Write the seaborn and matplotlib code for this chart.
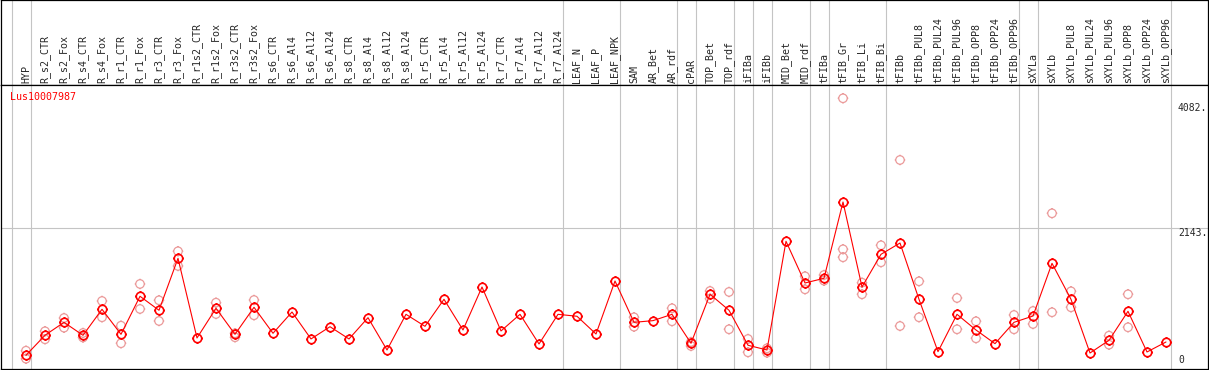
import matplotlib
matplotlib.use("Agg")
import matplotlib.pyplot as plt
import matplotlib.transforms as mtransforms
from matplotlib.path import Path
import seaborn as sns
import numpy as np
import pandas as pd

# Nomes das amostras (colunas do gráfico)
amostras = [
    "HYP", "R_s2_CTR", "R_s2_Fox", "R_s4_CTR", "R_s4_Fox", "R_r1_CTR", "R_r1_Fox",
    "R_r3_CTR", "R_r3_Fox", "R_r1s2_CTR", "R_r1s2_Fox", "R_r3s2_CTR", "R_r3s2_Fox",
    "R_s6_CTR", "R_s6_Al4", "R_s6_Al12", "R_s6_Al24", "R_s8_CTR", "R_s8_Al4",
    "R_s8_Al12", "R_s8_Al24", "R_r5_CTR", "R_r5_Al4", "R_r5_Al12", "R_r5_Al24",
    "R_r7_CTR", "R_r7_Al4", "R_r7_Al12", "R_r7_Al24", "LEAF_N", "LEAF_P", "LEAF_NPK",
    "SAM", "AR_Bet", "AR_rdf", "cPAR", "TOP_Bet", "TOP_rdf", "iFIBa", "iFIBb",
    "MID_Bet", "MID_rdf", "tFIBa", "tFIB_Gr", "tFIB_Li", "tFIB_Bi", "tFIBb",
    "tFIBb_PUL8", "tFIBb_PUL24", "tFIBb_PUL96", "tFIBb_OPP8", "tFIBb_OPP24",
    "tFIBb_OPP96", "sXYLa", "sXYLb", "sXYLb_PUL8", "sXYLb_PUL24", "sXYLb_PUL96",
    "sXYLb_OPP8", "sXYLb_OPP24", "sXYLb_OPP96",
]

# Média por amostra
medias = [
    174, 484, 685, 484, 887, 499, 1089, 872, 1678, 442, 903, 499, 918,
    515, 845, 427, 617, 427, 757, 256, 809, 623, 1042, 566, 1233,
    551, 809, 349, 809, 779, 504, 1326,
    685, 711, 809, 360, 1120, 872, 329, 256,
    1942, 1295, 1368, 2551, 1233, 1740, 1915,
    1042, 230, 809, 566, 354, 685,
    783, 1600, 1042, 209, 406, 856, 225, 380,
]

nan = np.nan
# Réplicas individuais (superior / inferior / terceira quando visível)
rep_alta = [
    245, 546, 752, 520, 1016, 633, 1280, 1027, 1787, nan, 990, 515, 1031,
    nan, nan, nan, nan, nan, nan, nan, nan, nan, nan, nan, nan,
    nan, nan, nan, nan, nan, nan, nan,
    763, nan, 903, 380, 1171, 1156, 427, 282,
    nan, 1399, 1419, 4160, 1300, 1880, 3203,
    1321, nan, 1062, 701, nan, 799,
    861, 2376, 1166, nan, 478, 1120, nan, nan,
]
rep_baixa = [
    121, 422, 602, 450, 763, 360, 892, 706, 1559, nan, 814, 453, 794,
    nan, nan, nan, nan, nan, nan, nan, nan, nan, nan, nan, nan,
    nan, nan, nan, nan, nan, nan, nan,
    617, nan, 701, 318, 1052, 577, 220, 214,
    nan, 1197, 1331, 1818, 1120, 1616, 628,
    763, nan, 577, 437, nan, 577,
    659, 841, 918, nan, 338, 608, nan, nan,
]
rep_extra = [nan] * 43 + [1694] + [nan] * 17

# Separadores de grupos (depois destas colunas)
separadores = [-1, 0, 28, 31, 34, 35, 37, 38, 39, 41, 42, 45, 52, 53, 60]
ticks_y = [0, 2143, 4082]

VERMELHO = "#ff0000"
ROSA = "#eb9a9a"
CINZA = "#c4c4c4"

sns.set_style("white")
plt.rcParams["font.family"] = ["DejaVu Sans Mono", "DejaVu Sans"]

# Marcador: círculo com pequenos traços nos 4 lados
circ = Path.unit_circle()
t = 1.25
tracos = Path(
    [(0, 1.0), (0, t), (0, -1.0), (0, -t), (1.0, 0), (t, 0), (-1.0, 0), (-t, 0)],
    [Path.MOVETO, Path.LINETO] * 4,
)
marcador = Path.make_compound_path(circ, tracos)

W, H = 1209, 370
fig = plt.figure(figsize=(W / 100, H / 100), dpi=100)
x0, x1 = 1, 1208
cab_top, cab_base, base = 0, 85, 369
ax_cab = fig.add_axes([x0 / W, (H - cab_base) / H, (x1 - x0) / W, (cab_base - cab_top) / H])
ax = fig.add_axes([x0 / W, (H - base) / H, (x1 - x0) / W, (base - cab_base) / H])

xlim = ((x0 - 26) / 19, (x1 - 26) / 19)
for a in (ax, ax_cab):
    a.set_xlim(*xlim)
    a.set_xticks([])
    a.set_yticks([])
    for s in a.spines.values():
        s.set_color("black")
        s.set_linewidth(0.9)
    for sep in separadores:
        a.axvline(sep + 0.24, color=CINZA, lw=0.8, zorder=0)
ax_cab.set_ylim(0, 1)
ax.set_ylim(-39, 4366)

# Rótulos das colunas no cabeçalho
trans_cab = mtransforms.blended_transform_factory(ax_cab.transData, ax_cab.transAxes)
for i, nome in enumerate(amostras):
    ax_cab.text(i, 0.025, nome, rotation=90, ha="center", va="bottom",
                fontsize=7.2, transform=trans_cab)

# Linha de grade horizontal
ax.axhline(2143, color=CINZA, lw=0.8, zorder=0)

# Réplicas
df_rep = pd.DataFrame({
    "pos": list(range(len(amostras))) * 3,
    "valor": rep_alta + rep_baixa + rep_extra,
}).dropna()
sns.scatterplot(data=df_rep, x="pos", y="valor", ax=ax, marker=marcador, s=58,
                facecolors="none", edgecolors=ROSA, linewidths=0.9, zorder=2, legend=False)

# Médias
df_media = pd.DataFrame({"pos": range(len(amostras)), "valor": medias})
sns.lineplot(data=df_media, x="pos", y="valor", ax=ax, color=VERMELHO, lw=0.8,
             marker=marcador, markersize=7.6, markerfacecolor="none",
             markeredgecolor=VERMELHO, markeredgewidth=1.2, zorder=3)
ax.set_xlabel("")
ax.set_ylabel("")
ax.set_xticks([])
ax.set_yticks([])

# Rótulos do eixo y à direita
trans_y = mtransforms.blended_transform_factory(ax.transAxes, ax.transData)
for v in ticks_y:
    if v == 0:
        ax.text((1178 - x0) / (x1 - x0), v + 60, "0", fontsize=7, va="baseline",
                ha="left", transform=trans_y)
    else:
        ax.text((1178 - x0) / (x1 - x0), v, f"{v}.", fontsize=7, va="top",
                ha="left", transform=trans_y)

# Nome do gene
ax.text((10 - x0) / (x1 - x0), 1 - 12 / (base - cab_base), "Lus10007987",
        color=VERMELHO, fontsize=7.2, va="center", ha="left", transform=ax.transAxes)

fig.savefig("out.png", dpi=100)
plt.close(fig)
